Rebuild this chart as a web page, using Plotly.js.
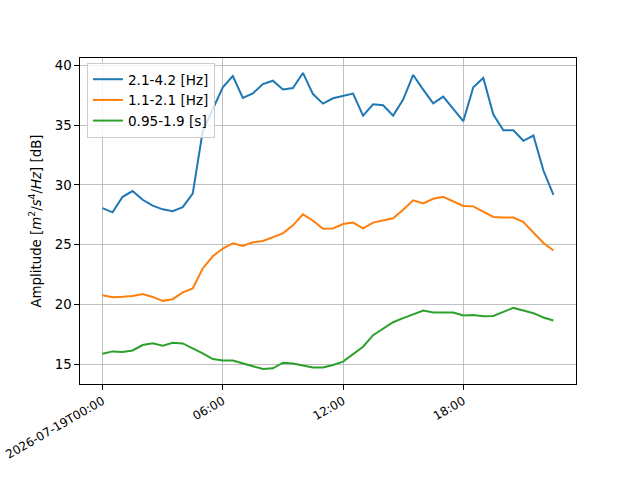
<!DOCTYPE html>
<html>
<head>
<meta charset="utf-8">
<script src="https://cdn.plot.ly/plotly-3.0.1.min.js"></script>
<style>html,body{margin:0;padding:0;background:#fff;}#chart{width:640px;height:480px;}</style>
</head>
<body>
<div id="chart"></div>
<script>
const day = "2026-07-19";
const clock = ["00:00","00:30","01:00","01:30","02:00","02:30","03:00","03:30","04:00","04:30",
  "05:00","05:30","06:00","06:30","07:00","07:30","08:00","08:30","09:00","09:30",
  "10:00","10:30","11:00","11:30","12:00","12:30","13:00","13:30","14:00","14:30",
  "15:00","15:30","16:00","16:30","17:00","17:30","18:00","18:30","19:00","19:30",
  "20:00","20:30","21:00","21:30","22:00","22:30"];
const times = clock.map(c => day + " " + c);

const band1 = [28.05,27.7,29.0,29.48,28.75,28.26,27.95,27.8,28.14,29.26,
  34.5,36.3,38.17,39.1,37.27,37.66,38.44,38.72,37.99,38.1,
  39.37,37.6,36.8,37.25,37.47,37.64,35.8,36.75,36.66,35.8,
  37.14,39.2,37.97,36.83,37.39,36.4,35.33,38.17,38.95,35.89,
  34.57,34.57,33.69,34.13,31.2,29.17];
const band2 = [20.76,20.6,20.63,20.7,20.87,20.62,20.29,20.43,21.0,21.32,
  23.0,24.02,24.67,25.1,24.88,25.19,25.3,25.64,25.94,26.61,
  27.53,27.0,26.33,26.35,26.72,26.84,26.36,26.84,27.0,27.2,
  27.92,28.7,28.45,28.84,29.0,28.59,28.23,28.2,27.78,27.31,
  27.26,27.26,26.89,26.0,25.13,24.5];
const band3 = [15.86,16.06,16.0,16.14,16.59,16.73,16.53,16.78,16.73,16.34,
  15.89,15.42,15.3,15.3,15.08,14.83,14.58,14.64,15.11,15.05,
  14.89,14.72,14.72,14.92,15.2,15.81,16.45,17.42,17.98,18.5,
  18.84,19.18,19.48,19.32,19.35,19.32,19.07,19.1,19.01,19.03,
  19.37,19.7,19.48,19.26,18.9,18.65];

const names = ["2.1-4.2 [Hz]","1.1-2.1 [Hz]","0.95-1.9 [s]"];
const colors = ["#1f77b4","#ff7f0e","#2ca02c"];
const series = [band1, band2, band3];

const tickVals = [day+" 00:00", day+" 06:00", day+" 12:00", day+" 18:00"];
const tickText = ["2026-07-19T00:00","06:00","12:00","18:00"];

const traces = series.map((s,i) => ({
  x: times, y: s, type: "scatter", mode: "lines", name: names[i],
  line: {color: colors[i], width: 2}
}));

const font = {family: "DejaVu Sans, sans-serif", size: 13.33, color: "#000"};

const layout = {
  width: 640, height: 480,
  margin: {l: 80, r: 64, t: 58, b: 96, pad: 0},
  paper_bgcolor: "#fff", plot_bgcolor: "#fff",
  font: font,
  showlegend: true,
  legend: {
    x: 0.014, y: 0.985, xanchor: "left", yanchor: "top",
    bgcolor: "rgba(255,255,255,0.8)", bordercolor: "#cccccc", borderwidth: 1,
    font: {family: "DejaVu Sans, sans-serif", size: 13.6, color: "#000"},
    itemwidth: 30, tracegroupgap: 0
  },
  xaxis: {
    type: "date",
    range: ["2026-07-18 22:52:30", "2026-07-19 23:37:30"],
    tickmode: "array", tickvals: tickVals, ticktext: tickText,
    tickangle: -30,
    ticklabeloverflow: "allow",
    showgrid: true, gridcolor: "#b0b0b0", gridwidth: 0.8,
    showline: true, linecolor: "#000", linewidth: 1, mirror: true,
    ticks: "outside", ticklen: 4.67, tickwidth: 1, tickcolor: "#000",
    tickfont: {family: "DejaVu Sans, sans-serif", size: 12, color: "#000"},
    zeroline: false
  },
  yaxis: {
    range: [13.33, 40.62],
    tickmode: "array", tickvals: [15,20,25,30,35,40],
    showgrid: true, gridcolor: "#b0b0b0", gridwidth: 0.8,
    showline: true, linecolor: "#000", linewidth: 1, mirror: true,
    ticks: "outside", ticklen: 4.67, tickwidth: 1, tickcolor: "#000",
    tickfont: {family: "DejaVu Sans, sans-serif", size: 13.33, color: "#000"},
    zeroline: false,
    title: {text: "Amplitude [<i>m</i><sup>2</sup>/<i>s</i><sup>4</sup>/<i>Hz</i>] [dB]",
      font: {family: "DejaVu Sans, sans-serif", size: 13.33, color: "#000"}, standoff: 10}
  }
};

Plotly.newPlot("chart", traces, layout, {displayModeBar: false, staticPlot: true});
</script>
</body>
</html>
